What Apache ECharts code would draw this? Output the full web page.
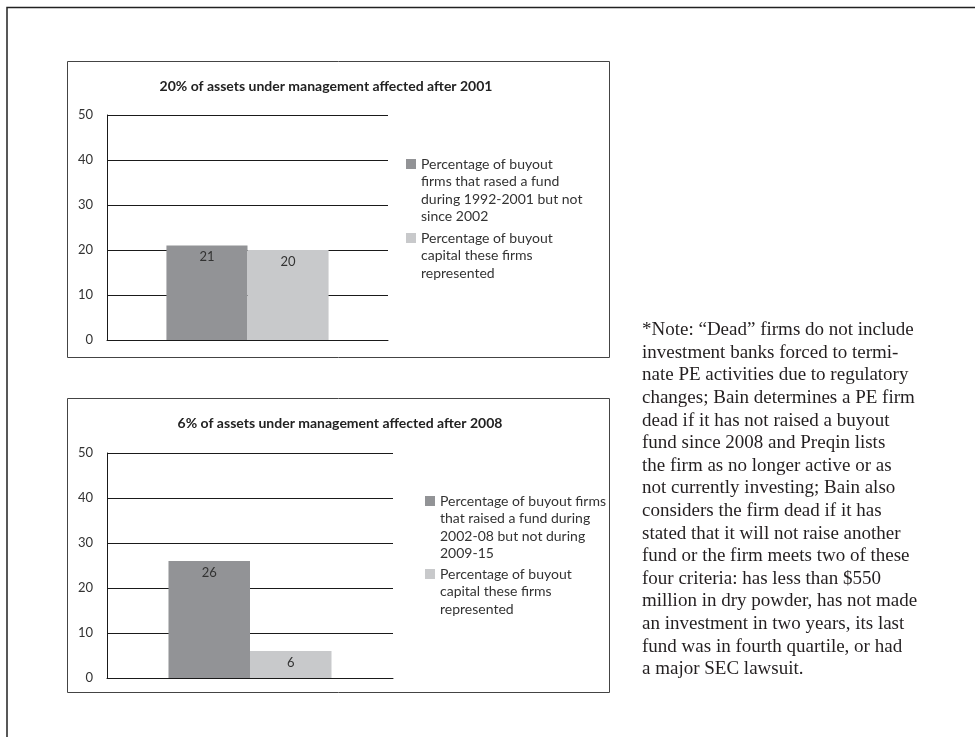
<!DOCTYPE html>
<html>
<head>
<meta charset="utf-8">
<script src="https://cdn.jsdelivr.net/npm/echarts@6/dist/echarts.min.js"></script>
<style>
html,body{margin:0;padding:0;background:#fff;}
#main{width:975px;height:737px;}
</style>
</head>
<body>
<div id="main"></div>
<script>
// ---- data ----
const yTicks = [0, 10, 20, 30, 40, 50];
const chart1Title = '20% of assets under management affected after 2001';
const chart2Title = '6% of assets under management affected after 2008';
const chart1Categories = [''];
const chart2Categories = [''];
const chart1FirmsLabel = ['Percentage of buyout', 'firms that rased a fund', 'during 1992-2001 but not', 'since 2002'];
const chart1CapitalLabel = ['Percentage of buyout', 'capital these firms', 'represented'];
const chart2FirmsLabel = ['Percentage of buyout firms', 'that raised a fund during', '2002-08 but not during', '2009-15'];
const chart2CapitalLabel = ['Percentage of buyout', 'capital these firms', 'represented'];
const chart1Firms = [21];
const chart1Capital = [20];
const chart2Firms = [26];
const chart2Capital = [6];
const noteLines = [
  '*Note: \u201cDead\u201d firms do not include',
  'investment banks forced to termi-',
  'nate PE activities due to regulatory',
  'changes; Bain determines a PE firm',
  'dead if it has not raised a buyout',
  'fund since 2008 and Preqin lists',
  'the firm as no longer active or as',
  'not currently investing; Bain also',
  'considers the firm dead if it has',
  'stated that it will not raise another',
  'fund or the firm meets two of these',
  'four criteria: has less than $550',
  'million in dry powder, has not made',
  'an investment in two years, its last',
  'fund was in fourth quartile, or had',
  'a major SEC lawsuit.'
];

// ---- styling ----
const SANS = 'Lato, "Open Sans", sans-serif';
const SERIF = '"Liberation Serif", serif';
const DARK = '#929396';
const LIGHT = '#c8c9cb';
const TXT = '#333333';
const LH = 17.6;

const chart = echarts.init(document.getElementById('main'), null, {renderer: 'canvas'});

const n1a = chart1FirmsLabel.join(' ');
const n1b = chart1CapitalLabel.join(' ');
const n2a = chart2FirmsLabel.join(' ');
const n2b = chart2CapitalLabel.join(' ');
const labelMap = {};
labelMap[n1a] = chart1FirmsLabel;
labelMap[n1b] = chart1CapitalLabel;
labelMap[n2a] = chart2FirmsLabel;
labelMap[n2b] = chart2CapitalLabel;

// the legend text block is centred on its icon; leading blank lines put the
// first real line level with the square, as in the reference
function legendFor(name, left, iconTop) {
  const lines = labelMap[name];
  const n = lines.length;
  const top = iconTop - ((2 * n - 1) * LH / 2 - 5);
  const pad = new Array(n - 1).fill('');
  return {
    orient: 'vertical', left: left, top: top, padding: 0,
    itemWidth: 10, itemHeight: 10, icon: 'rect', selectedMode: false,
    data: [name],
    formatter: function (nm) { return pad.concat(labelMap[nm]).join('\n'); },
    textStyle: {fontFamily: SANS, fontSize: 14, color: TXT, lineHeight: LH}
  };
}

function yAxisFor(gi) {
  return {
    gridIndex: gi, type: 'value', min: yTicks[0], max: yTicks[yTicks.length - 1],
    interval: yTicks[1] - yTicks[0],
    axisLine: {show: true, lineStyle: {color: '#1a1a1a', width: 1}},
    axisTick: {show: false},
    axisLabel: {fontFamily: SANS, fontSize: 13, color: TXT, margin: 14},
    splitLine: {show: true, lineStyle: {color: '#1a1a1a', width: 1}}
  };
}
function xAxisFor(gi, cats) {
  return {
    gridIndex: gi, type: 'category', data: cats,
    axisLine: {show: true, lineStyle: {color: '#1a1a1a', width: 1}},
    axisTick: {show: false}, axisLabel: {show: false}
  };
}
const barLabel = {show: true, position: 'insideTop', distance: 5,
  fontFamily: SANS, fontSize: 13, color: TXT};

const option = {
  backgroundColor: '#ffffff',
  animation: false,
  title: [
    {text: chart1Title, left: 326, top: 79, textAlign: 'center', padding: 0,
     textStyle: {fontFamily: SANS, fontSize: 14, fontWeight: 'bold', color: '#222'}},
    {text: chart2Title, left: 340, top: 416, textAlign: 'center', padding: 0,
     textStyle: {fontFamily: SANS, fontSize: 14, fontWeight: 'bold', color: '#222'}}
  ],
  legend: [
    legendFor(n1a, 406, 159),
    legendFor(n1b, 406, 233),
    legendFor(n2a, 425, 496),
    legendFor(n2b, 425, 569)
  ],
  grid: [
    {left: 107, top: 115, width: 281, height: 225},
    {left: 107, top: 453, width: 286, height: 225}
  ],
  xAxis: [xAxisFor(0, chart1Categories), xAxisFor(1, chart2Categories)],
  yAxis: [yAxisFor(0), yAxisFor(1)],
  series: [
    {id: 's1a', name: n1a, type: 'bar', xAxisIndex: 0, yAxisIndex: 0, data: chart1Firms,
     itemStyle: {color: DARK}, barGap: '0%', barCategoryGap: '42.3%', label: barLabel},
    {id: 's1b', name: n1b, type: 'bar', xAxisIndex: 0, yAxisIndex: 0, data: chart1Capital,
     itemStyle: {color: LIGHT}, barGap: '0%', barCategoryGap: '42.3%', label: barLabel},
    {id: 's2a', name: n2a, type: 'bar', xAxisIndex: 1, yAxisIndex: 1, data: chart2Firms,
     itemStyle: {color: DARK}, barGap: '0%', barCategoryGap: '43%', label: barLabel},
    {id: 's2b', name: n2b, type: 'bar', xAxisIndex: 1, yAxisIndex: 1, data: chart2Capital,
     itemStyle: {color: LIGHT}, barGap: '0%', barCategoryGap: '43%', label: barLabel}
  ],
  graphic: [
    {type: 'polyline', silent: true, z: 0,
     shape: {points: [[7, 737], [7, 7.5], [975, 7.5]]},
     style: {stroke: '#222', lineWidth: 1.5, fill: null}},
    {type: 'rect', silent: true, z: 0,
     shape: {x: 67.5, y: 61.5, width: 542, height: 296},
     style: {stroke: '#444', lineWidth: 1, fill: null}},
    {type: 'rect', silent: true, z: 0,
     shape: {x: 67.5, y: 398.5, width: 542, height: 294},
     style: {stroke: '#444', lineWidth: 1, fill: null}},
    {type: 'text', silent: true, x: 642, y: 319,
     style: {text: noteLines.join('\n'), font: '19px ' + SERIF, lineHeight: 22.6,
             fill: '#231f20'}}
  ]
};
chart.setOption(option);
</script>
</body>
</html>
